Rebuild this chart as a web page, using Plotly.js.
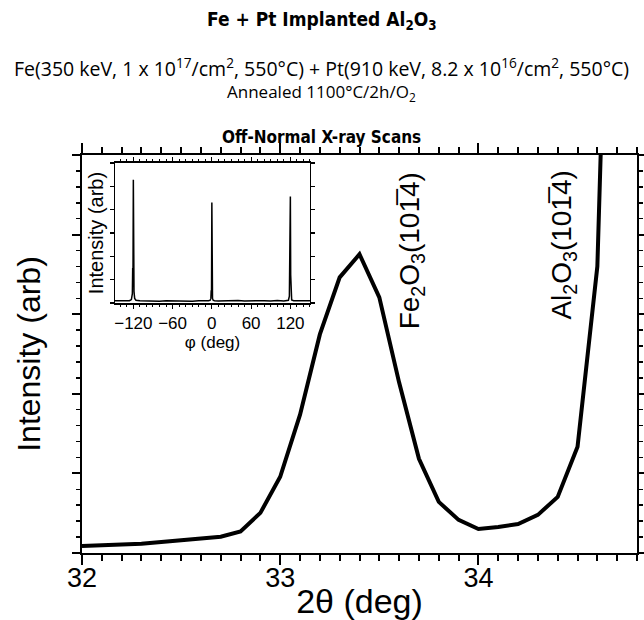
<!DOCTYPE html>
<html>
<head>
<meta charset="utf-8">
<script src="https://cdn.plot.ly/plotly-3.0.1.min.js"></script>
<style>
  html, body { margin: 0; padding: 0; background: #fff; }
  #chart { width: 644px; height: 620px; }
</style>
</head>
<body>
<div id="chart"></div>
<script>
// 2-theta scan through the Fe2O3 (10-14) peak, toward the Al2O3 (10-14) substrate peak
const twoTheta = [32.0, 32.1, 32.2, 32.3, 32.4, 32.5, 32.6, 32.7, 32.8, 32.9,
                  33.0, 33.1, 33.2, 33.3, 33.4, 33.5, 33.6, 33.7, 33.8, 33.9,
                  34.0, 34.1, 34.2, 34.3, 34.4, 34.5, 34.6, 34.7];
const intensity = [0.088, 0.097, 0.105, 0.117, 0.139, 0.160, 0.176, 0.205, 0.271, 0.504,
                   0.957, 1.738, 2.746, 3.463, 3.753, 3.212, 2.141, 1.184, 0.642, 0.416,
                   0.302, 0.327, 0.365, 0.479, 0.705, 1.335, 3.602, 12.0];

// phi scan (inset): three-fold symmetric reflections
const phi = [-148, -140, -132, -126, -123, -121.5, -121, -120.5, -120, -119.5, -119, -118, -116,
             -110, -100, -90, -80, -70, -60, -50, -40, -30, -20, -10, -5,
             -2.5, -1.5, -1, -0.5, 0, 0.5, 1, 2, 4,
             10, 20, 30, 40, 50, 60, 70, 80, 90, 100, 110, 114,
             117, 118.5, 119, 119.5, 120, 120.5, 121, 122, 125, 132, 140, 150];
const phiIntensity = [0.10, 0.09, 0.11, 0.10, 0.15, 0.40, 1.50, 1.40, 5.28, 1.20, 0.50, 0.20, 0.12,
                      0.10, 0.09, 0.11, 0.08, 0.10, 0.09, 0.11, 0.10, 0.08, 0.10, 0.09, 0.10,
                      0.12, 0.20, 0.55, 0.50, 4.31, 0.45, 0.20, 0.12, 0.10,
                      0.09, 0.10, 0.08, 0.11, 0.09, 0.10, 0.08, 0.10, 0.09, 0.11, 0.09, 0.10,
                      0.12, 0.30, 1.70, 1.60, 4.56, 1.20, 0.30, 0.13, 0.10, 0.09, 0.10, 0.10];

const helv = '"Liberation Sans", Arial, sans-serif';
const humanist = '"Open Sans", "Noto Sans", sans-serif';
const boldNarrow = '"Liberation Sans Narrow", "DejaVu Sans Condensed", sans-serif';

const traces = [
  {
    x: twoTheta, y: intensity, type: 'scatter', mode: 'lines',
    line: { color: '#000', width: 4 }, xaxis: 'x', yaxis: 'y',
    hoverinfo: 'skip', cliponaxis: true
  },
  {
    x: phi, y: phiIntensity, type: 'scatter', mode: 'lines',
    line: { color: '#000', width: 1.5 }, xaxis: 'x2', yaxis: 'y2',
    hoverinfo: 'skip'
  }
];

const frame = { showline: true, linecolor: '#000', linewidth: 2, mirror: 'allticks',
                ticks: 'outside', tickcolor: '#000', showgrid: false, zeroline: false };

const layout = {
  width: 644, height: 620,
  margin: { l: 82, r: 7, t: 155, b: 67 },
  paper_bgcolor: '#fff', plot_bgcolor: '#fff',
  showlegend: false,
  xaxis: Object.assign({}, frame, {
    range: [32, 34.8], tickmode: 'linear', tick0: 32, dtick: 1, ticklen: 10, tickwidth: 2,
    minor: { dtick: 0.1, tick0: 32, ticklen: 6, tickwidth: 2, tickcolor: '#000', ticks: 'outside' },
    tickfont: { family: helv, size: 27, color: '#000' }, ticklabelstandoff: -10,
    title: { text: '2θ (deg)', font: { family: helv, size: 34, color: '#000' }, standoff: 7 }
  }),
  yaxis: Object.assign({}, frame, {
    range: [0, 5], tickmode: 'linear', dtick: 1, tick0: 0, ticklen: 8, tickwidth: 2, showticklabels: false,
    minor: { dtick: 0.2, tick0: 0, ticklen: 4, tickwidth: 1.5, tickcolor: '#000', ticks: 'outside' },
    title: { text: 'Intensity (arb)', font: { family: helv, size: 32, color: '#000' }, standoff: 22 }
  }),
  xaxis2: Object.assign({}, frame, {
    domain: [0.0595, 0.4108], anchor: 'y2', linewidth: 1.5,
    range: [-148, 150], tickmode: 'linear', tick0: -120, dtick: 60, ticklen: 4, tickwidth: 1.2,
    minor: { dtick: 10, tick0: 0, ticklen: 2, tickwidth: 1, tickcolor: '#000', ticks: 'outside' },
    tickfont: { family: helv, size: 17, color: '#000' }, ticklabeloverflow: 'allow',
    title: { text: 'φ (deg)', font: { family: helv, size: 17, color: '#000' }, standoff: 0 }
  }),
  yaxis2: Object.assign({}, frame, {
    domain: [0.628, 0.980], anchor: 'x2', linewidth: 1.5,
    range: [0, 6], tickmode: 'linear', dtick: 1, tick0: 0, ticklen: 4, tickwidth: 1.2, showticklabels: false,
    title: { text: 'Intensity (arb)', font: { family: helv, size: 20, color: '#000' }, standoff: 0 }
  }),
  annotations: [
    { text: '<b>Fe + Pt Implanted Al<sub>2</sub>O<sub>3</sub></b>', xref: 'paper', yref: 'paper',
      x: 0.4324, y: 1.339, xanchor: 'center', yanchor: 'middle', showarrow: false,
      font: { family: boldNarrow, size: 19, color: '#000' } },
    { text: 'Fe(350 keV, 1 x 10<sup>17</sup>/cm<sup>2</sup>, 550°C) + Pt(910 keV, 8.2 x 10<sup>16</sup>/cm<sup>2</sup>, 550°C)',
      xref: 'paper', yref: 'paper', x: 0.4324, y: 1.2186, xanchor: 'center', yanchor: 'middle',
      showarrow: false, font: { family: humanist, size: 19.5, color: '#000' } },
    { text: 'Annealed 1100°C/2h/O<sub>2</sub>', xref: 'paper', yref: 'paper',
      x: 0.4324, y: 1.1558, xanchor: 'center', yanchor: 'middle', showarrow: false,
      font: { family: humanist, size: 17, color: '#000' } },
    { text: '<b>Off-Normal X-ray Scans</b>', xref: 'paper', yref: 'paper',
      x: 0.4324, y: 1.0452, xanchor: 'center', yanchor: 'middle', showarrow: false,
      font: { family: boldNarrow, size: 17, color: '#000' } },
    { text: 'Fe<sub>2</sub>O<sub>3</sub>(101\u03054)', xref: 'x', yref: 'y', x: 33.66, y: 3.79,
      textangle: -90, xanchor: 'center', yanchor: 'middle', showarrow: false,
      font: { family: helv, size: 28, color: '#000' } },
    { text: 'Al<sub>2</sub>O<sub>3</sub>(101\u03054)', xref: 'x', yref: 'y', x: 34.43, y: 3.87,
      textangle: -90, xanchor: 'center', yanchor: 'middle', showarrow: false,
      font: { family: helv, size: 28, color: '#000' } }
  ]
};

Plotly.newPlot('chart', traces, layout, { staticPlot: true, displayModeBar: false });
</script>
</body>
</html>
